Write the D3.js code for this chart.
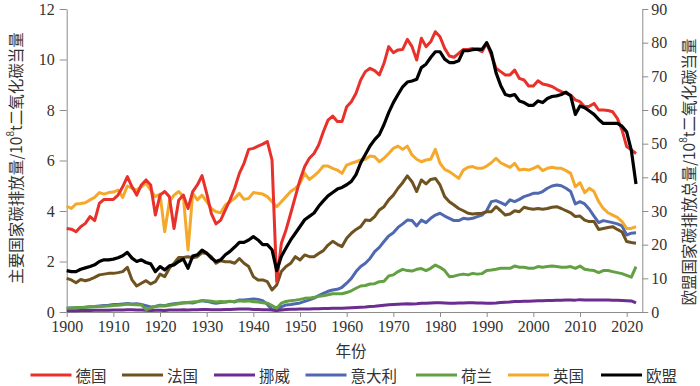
<!DOCTYPE html>
<html>
<head>
<meta charset="utf-8">
<script src="https://cdn.jsdelivr.net/npm/d3@7"></script>
<style>
  body { margin: 0; background: #fff; }
  .tick text { font-family: "Liberation Serif", "DejaVu Serif", serif; font-size: 16px; fill: #333; }
  .cn { font-family: "Noto Sans CJK SC", sans-serif; font-size: 15.5px; fill: #333; }
</style>
</head>
<body>
<div id="chart"></div>
<script>
// years 1900..2022
const years = d3.range(1900, 2023);
const xTicks = [1900, 1910, 1920, 1930, 1940, 1950, 1960, 1970, 1980, 1990, 2000, 2010, 2020];
const yLeftTicks = [0, 2, 4, 6, 8, 10, 12];
const yRightTicks = [0, 10, 20, 30, 40, 50, 60, 70, 80, 90];

// 主要国家 (left axis, 10^8 t)
const germany = [
  3.31,3.28,3.18,3.38,3.51,3.78,3.62,4.3,4.46,4.46,
  4.46,4.63,4.96,5.36,4.96,4.63,5.03,5.23,5.03,3.84,
  4.63,4.77,4.57,3.31,4.43,4.63,4.1,4.77,5.03,5.4,
  4.7,3.9,3.49,3.64,4.04,4.44,4.9,5.49,5.89,6.44,
  6.48,6.57,6.65,6.75,6.02,1.2,2.72,3.25,3.9,4.57,
  5.23,5.76,6.09,6.28,6.61,7.14,7.6,7.76,7.54,7.54,
  8.13,8.33,8.66,9.19,9.52,9.65,9.56,9.39,9.85,10.51,
  10.27,10.38,10.4,10.8,10.51,9.98,10.84,10.51,10.7,11.1,
  10.9,10.44,10.14,10.09,10.24,10.4,10.4,10.44,10.4,10.31,
  10.64,10.18,9.65,9.52,9.39,9.39,9.58,9.25,9.19,8.95,
  8.95,9.16,9.03,8.99,8.93,8.82,8.73,8.66,8.59,8.4,
  8.33,8.13,8.15,8.26,8.0,8.0,7.98,7.93,7.67,7.21,
  6.55,6.42,6.28
];
const france = [
  1.33,1.27,1.16,1.29,1.24,1.29,1.37,1.47,1.5,1.53,
  1.53,1.56,1.6,1.77,1.27,1.03,1.14,1.24,1.11,1.2,
  1.5,1.4,1.73,1.93,2.16,2.16,2.19,2.15,2.19,2.35,
  2.32,2.19,1.93,2.03,1.99,1.99,1.93,2.12,1.93,1.8,
  1.4,1.27,1.27,1.2,0.87,1.07,1.6,1.8,1.93,2.19,
  2.06,2.26,2.19,2.19,2.32,2.43,2.65,2.8,2.68,2.59,
  2.92,3.12,3.27,3.38,3.64,3.62,3.78,4.04,4.17,4.44,
  4.63,4.9,5.12,5.39,5.16,4.77,5.23,5.07,5.25,5.29,
  5.03,4.57,4.37,4.24,4.1,4.01,3.91,3.88,3.9,3.91,
  3.97,3.97,4.17,4.01,3.84,3.88,4.01,3.97,4.15,4.1,
  4.07,4.1,4.07,4.1,4.15,4.17,4.1,4.01,3.93,3.78,
  3.8,3.64,3.58,3.58,3.27,3.31,3.35,3.38,3.27,3.17,
  2.79,2.75,2.72
];
const norway = [
  0.05,0.05,0.05,0.06,0.06,0.06,0.07,0.07,0.07,0.07,
  0.08,0.08,0.08,0.09,0.09,0.08,0.08,0.07,0.06,0.07,
  0.07,0.06,0.08,0.08,0.08,0.09,0.08,0.09,0.09,0.1,
  0.1,0.09,0.09,0.09,0.1,0.1,0.11,0.12,0.12,0.12,
  0.1,0.1,0.09,0.09,0.08,0.06,0.08,0.1,0.11,0.11,
  0.12,0.12,0.12,0.13,0.13,0.14,0.14,0.15,0.15,0.15,
  0.16,0.17,0.18,0.19,0.2,0.22,0.23,0.25,0.27,0.29,
  0.3,0.31,0.32,0.33,0.32,0.33,0.35,0.35,0.36,0.37,
  0.37,0.36,0.35,0.35,0.36,0.36,0.37,0.37,0.36,0.36,
  0.35,0.35,0.36,0.38,0.39,0.4,0.42,0.42,0.43,0.43,
  0.44,0.45,0.45,0.46,0.46,0.47,0.47,0.48,0.48,0.47,
  0.49,0.48,0.48,0.48,0.48,0.48,0.48,0.47,0.47,0.46,
  0.45,0.44,0.36
];
const italy = [
  0.15,0.16,0.17,0.18,0.19,0.21,0.22,0.24,0.26,0.27,
  0.3,0.3,0.32,0.34,0.32,0.33,0.3,0.25,0.2,0.22,
  0.27,0.25,0.3,0.33,0.35,0.37,0.38,0.36,0.4,0.45,
  0.42,0.38,0.35,0.38,0.4,0.43,0.4,0.48,0.48,0.5,
  0.52,0.5,0.45,0.3,0.1,0.06,0.2,0.28,0.3,0.33,
  0.36,0.42,0.48,0.55,0.65,0.74,0.82,0.87,0.9,0.98,
  1.14,1.33,1.6,1.8,1.93,2.12,2.39,2.56,2.79,3.01,
  3.14,3.35,3.49,3.64,3.62,3.41,3.64,3.54,3.71,3.84,
  3.91,3.8,3.71,3.62,3.62,3.71,3.68,3.71,3.78,3.84,
  4.01,4.37,4.41,4.33,4.24,4.44,4.37,4.46,4.57,4.63,
  4.7,4.7,4.77,4.9,4.99,5.03,5.0,4.9,4.77,4.28,
  4.37,4.28,4.07,3.8,3.54,3.62,3.58,3.54,3.49,3.41,
  3.05,3.12,3.14
];
const netherlands = [
  0.15,0.16,0.17,0.18,0.19,0.2,0.21,0.22,0.23,0.24,
  0.26,0.27,0.29,0.32,0.3,0.29,0.28,0.1,0.16,0.22,
  0.25,0.24,0.27,0.3,0.33,0.36,0.38,0.4,0.42,0.45,
  0.45,0.43,0.4,0.42,0.4,0.42,0.43,0.45,0.43,0.44,
  0.41,0.4,0.37,0.35,0.25,0.15,0.35,0.42,0.45,0.47,
  0.5,0.54,0.55,0.58,0.62,0.64,0.68,0.72,0.72,0.72,
  0.77,0.84,0.94,1.03,1.05,1.11,1.12,1.2,1.22,1.43,
  1.47,1.6,1.69,1.64,1.62,1.69,1.72,1.64,1.73,1.86,
  1.77,1.64,1.4,1.42,1.47,1.5,1.47,1.53,1.5,1.52,
  1.64,1.66,1.69,1.73,1.73,1.73,1.82,1.77,1.77,1.73,
  1.73,1.8,1.77,1.8,1.82,1.8,1.77,1.77,1.8,1.73,
  1.82,1.69,1.66,1.64,1.56,1.64,1.64,1.6,1.56,1.52,
  1.45,1.38,1.8
];
const uk = [
  4.2,4.1,4.28,4.3,4.33,4.44,4.54,4.73,4.67,4.73,
  4.75,4.83,4.54,4.99,4.9,4.83,4.96,5.1,4.83,4.57,
  4.67,3.18,4.37,4.63,4.77,4.57,2.46,4.7,4.44,4.63,
  4.37,4.1,3.97,3.93,4.24,4.37,4.5,4.7,4.46,4.5,
  4.73,4.7,4.67,4.57,4.37,4.17,4.37,4.57,4.77,4.9,
  5.1,5.49,5.25,5.39,5.56,5.78,5.78,5.69,5.62,5.49,
  5.82,5.89,5.95,6.02,6.05,6.18,6.15,5.95,6.09,6.28,
  6.48,6.57,6.44,6.57,6.22,6.05,5.95,6.02,6.05,6.44,
  5.89,5.65,5.56,5.43,5.29,5.62,5.73,5.76,5.69,5.69,
  5.78,5.91,6.09,5.91,5.82,5.73,5.89,5.62,5.65,5.62,
  5.69,5.78,5.6,5.69,5.73,5.69,5.69,5.6,5.49,4.96,
  5.12,4.73,4.9,4.77,4.37,4.1,3.93,3.84,3.75,3.58,
  3.31,3.31,3.38
];
// 欧盟 (right axis)
const eu = [
  12.3,12.0,12.0,12.7,13.1,13.5,14.0,15.0,15.5,15.5,
  15.7,16.1,16.7,17.7,16.0,15.0,15.5,14.7,14.3,12.0,
  13.5,12.5,13.7,14.0,15.0,15.7,13.0,16.6,17.0,18.4,
  17.5,16.0,15.0,15.5,17.0,18.0,19.3,20.7,20.7,21.4,
  22.4,21.4,20.0,20.0,18.5,12.3,16.5,19.0,21.4,23.4,
  25.4,27.4,28.4,29.4,31.4,33.0,34.5,35.5,36.5,37.0,
  37.8,38.8,40.8,44.3,46.8,49.3,51.2,52.7,55.7,59.2,
  62.2,64.6,66.9,68.3,68.6,69.1,72.6,73.6,75.6,77.3,
  77.3,75.1,74.1,74.1,74.6,77.6,77.6,77.9,78.1,78.0,
  80.0,77.1,71.1,67.3,64.6,64.2,64.6,62.7,62.2,61.4,
  61.4,62.7,62.2,63.4,64.0,64.2,64.6,65.3,64.2,58.7,
  61.2,60.7,59.7,58.7,57.2,56.0,56.0,56.0,56.0,55.2,
  53.5,48.0,38.0
];

const series = [
  { name: '德国', values: germany, color: '#e8312a', axis: 'L' },
  { name: '法国', values: france, color: '#6e5220', axis: 'L' },
  { name: '挪威', values: norway, color: '#6b2d8f', axis: 'L' },
  { name: '意大利', values: italy, color: '#5068b0', axis: 'L' },
  { name: '荷兰', values: netherlands, color: '#62a043', axis: 'L' },
  { name: '英国', values: uk, color: '#f5a92b', axis: 'L' },
  { name: '欧盟', values: eu, color: '#000000', axis: 'R' }
];
const drawOrder = ['意大利', '挪威', '荷兰', '法国', '英国', '德国', '欧盟'];

const W = 700, H = 386;
const margin = { top: 9, right: 57.7, bottom: 74, left: 66.7 };
const width = W - margin.left - margin.right;
const height = H - margin.top - margin.bottom;

const svg = d3.select('#chart').append('svg')
  .attr('width', W).attr('height', H);
const g = svg.append('g')
  .attr('transform', `translate(${margin.left},${margin.top})`);

const x = d3.scaleLinear().domain([1900, 2023.35]).range([0, width]);
const yL = d3.scaleLinear().domain([0, 12]).range([height, 0]);
const yR = d3.scaleLinear().domain([0, 90]).range([height, 0]);

// Axes
function styleAxis(sel) {
  sel.selectAll('.domain').attr('stroke', '#8c8c8c');
  sel.selectAll('.tick line').attr('stroke', '#8c8c8c');
}
g.append('g').attr('transform', `translate(0,${height})`)
  .call(d3.axisBottom(x).tickValues(xTicks).tickFormat(d3.format('d'))
    .tickSize(5).tickSizeOuter(0).tickPadding(4))
  .call(styleAxis);
g.append('g')
  .call(d3.axisLeft(yL).tickValues(yLeftTicks).tickSize(7).tickSizeOuter(0).tickPadding(5))
  .call(styleAxis);
g.append('g').attr('transform', `translate(${width},0)`)
  .call(d3.axisRight(yR).tickValues(yRightTicks).tickSize(6).tickSizeOuter(0).tickPadding(3))
  .call(styleAxis);

// Lines
drawOrder.forEach(n => {
  const s = series.find(d => d.name === n);
  const yScale = s.axis === 'L' ? yL : yR;
  g.append('path').datum(s.values)
    .attr('fill', 'none')
    .attr('stroke', s.color)
    .attr('stroke-width', s.axis === 'R' ? 3.2 : 3)
    .attr('stroke-linejoin', 'round')
    .attr('d', d3.line().x((d, i) => x(years[i])).y(d => yScale(d)));
});

// Axis titles
function title(t, cx, cy) {
  const el = svg.append('text').attr('class', 'cn')
    .attr('transform', `translate(${cx},${cy}) rotate(-90)`)
    .attr('text-anchor', 'middle').attr('dominant-baseline', 'central');
  el.append('tspan').text(t[0] + '/10');
  el.append('tspan').attr('dy', -6).attr('font-size', 10).text('8');
  el.append('tspan').attr('dy', 6).text('t' + t[1]);
}
title(['主要国家碳排放量', '二氧化碳当量'], 15, 158);
title(['欧盟国家碳排放总量', '二氧化碳当量'], 688, 172);

svg.append('text').attr('class', 'cn')
  .attr('x', 351).attr('y', 350)
  .attr('text-anchor', 'middle').attr('dominant-baseline', 'central')
  .text('年份');

// Legend
const legendX = [30.5, 122, 214, 305.5, 416, 508, 601];
series.forEach((s, i) => {
  const lg = svg.append('g').attr('transform', `translate(${legendX[i]},375)`);
  lg.append('line').attr('x1', 0).attr('x2', 41)
    .attr('stroke', s.color).attr('stroke-width', 3);
  lg.append('text').attr('class', 'cn')
    .attr('x', 45).attr('y', 0).attr('dominant-baseline', 'central')
    .text(s.name);
});
</script>
</body>
</html>
